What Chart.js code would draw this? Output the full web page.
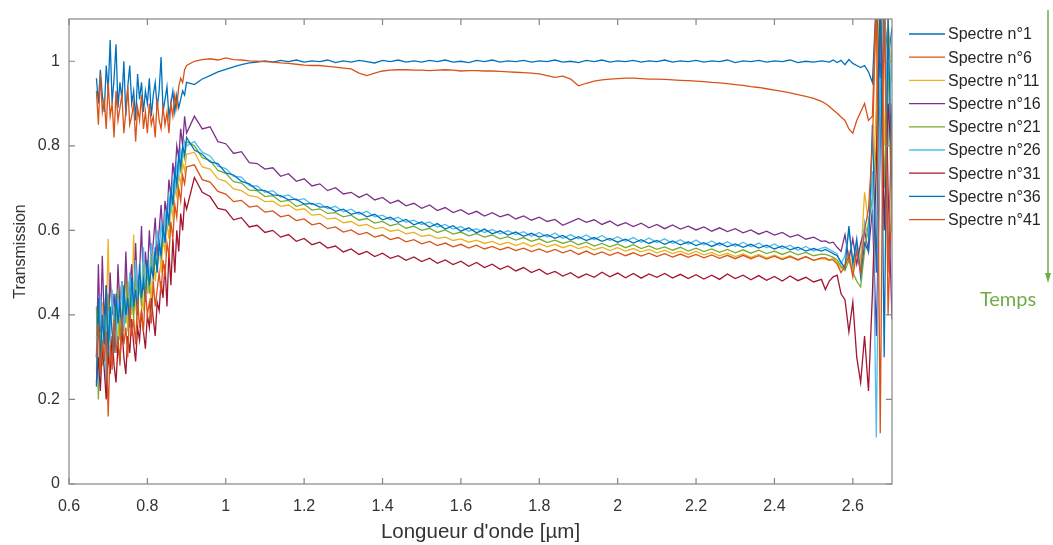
<!DOCTYPE html>
<html><head><meta charset="utf-8">
<script src="https://cdn.jsdelivr.net/npm/chart.js@4.4.1/dist/chart.umd.min.js"></script>
<style>html,body{margin:0;padding:0;background:#fff;}canvas{display:block;}</style>
</head><body>
<canvas id="c" width="1053" height="545"></canvas>
<script>
// Wavelengths (µm) – shared abscissa for every spectrum
const wavelengths = [
0.670,0.675,0.680,0.685,0.690,0.695,0.700,0.705,0.710,0.715,0.720,0.725,0.730,0.735,0.740,0.745,0.750,0.755,0.760,0.765,0.770,0.775,0.780,0.785,0.790,0.795,0.800,0.805,0.810,0.815,0.820,0.825,0.830,0.835,0.840,0.845,0.850,0.855,0.860,0.865,0.870,0.875,0.880,0.885,0.890,0.895,0.900,
0.92,0.94,0.96,0.98,1.00,1.02,1.04,1.06,1.08,1.10,1.12,1.14,1.16,1.18,1.20,1.22,1.24,1.26,1.28,1.30,
1.32,1.34,1.36,1.38,1.40,1.42,1.44,1.46,1.48,1.50,1.52,1.54,1.56,1.58,1.60,1.62,1.64,1.66,1.68,1.70,
1.72,1.74,1.76,1.78,1.80,1.82,1.84,1.86,1.88,1.90,1.92,1.94,1.96,1.98,2.00,2.02,2.04,2.06,2.08,2.10,
2.12,2.14,2.16,2.18,2.20,2.22,2.24,2.26,2.28,2.30,2.32,2.34,2.36,2.38,2.40,2.42,2.44,2.46,2.48,2.50,2.52,
2.53,2.54,2.55,2.56,2.57,2.58,2.59,2.60,2.61,2.62,2.63,2.64,2.65,2.66,2.67,2.68,2.69,2.70];

const seriesNames = ["Spectre n°1","Spectre n°6","Spectre n°11","Spectre n°16","Spectre n°21","Spectre n°26","Spectre n°31","Spectre n°36","Spectre n°41"];

const spectre1 = [
0.96,0.90,0.98,0.92,0.88,0.99,0.93,1.05,0.90,0.96,1.04,0.89,0.95,0.91,1.00,0.87,0.94,0.99,0.90,0.93,0.86,0.97,0.91,0.95,0.88,0.93,0.90,0.96,0.87,0.92,0.95,0.89,0.93,1.01,0.88,0.91,0.94,0.87,0.90,0.93,0.88,0.92,0.89,0.91,0.93,0.92,0.95,
0.945,0.958,0.966,0.975,0.981,0.987,0.992,0.996,0.998,1.001,0.998,1.002,0.999,1.003,0.998,1.001,0.999,1.003,0.997,1.001,
0.998,1.002,0.999,0.996,1.002,0.999,1.003,0.998,1.001,0.998,1.002,0.999,1.003,0.998,1.0,0.997,1.002,0.999,1.003,0.998,
1.001,0.999,1.002,0.998,1.001,0.999,1.003,0.998,1.0,0.997,1.002,0.999,1.003,0.998,1.001,0.999,1.002,0.998,1.001,0.999,
1.003,0.998,1.001,0.999,1.002,0.998,1.001,0.999,1.003,0.997,1.001,0.999,1.002,0.998,1.001,0.999,1.003,0.997,1.0,0.998,1.001,
1.0,0.998,1.003,0.997,1.002,0.992,1.004,0.995,0.99,0.985,0.99,0.975,0.95,1.15,0.96,1.12,1.0,1.08];
const spectre6 = [
0.93,0.85,0.97,0.88,0.91,0.84,0.95,0.87,0.90,0.82,0.93,0.86,0.89,0.92,0.83,0.88,0.94,0.85,0.87,0.90,0.81,0.89,0.86,0.92,0.84,0.88,0.83,0.90,0.85,0.87,0.82,0.91,0.86,0.84,0.89,0.85,0.88,0.83,0.90,0.87,0.92,0.89,0.94,0.96,0.95,0.98,0.99,
1.0,1.004,1.006,1.003,1.008,1.004,1.003,1.001,1.0,0.999,0.998,0.996,0.995,0.993,0.991,0.99,0.99,0.988,0.986,0.984,
0.982,0.972,0.966,0.972,0.977,0.979,0.98,0.98,0.979,0.979,0.978,0.979,0.98,0.979,0.977,0.978,0.978,0.977,0.977,0.976,
0.975,0.974,0.973,0.972,0.97,0.966,0.962,0.965,0.958,0.942,0.948,0.953,0.956,0.958,0.959,0.96,0.96,0.959,0.958,0.958,
0.957,0.956,0.955,0.954,0.953,0.952,0.95,0.949,0.947,0.945,0.943,0.94,0.938,0.935,0.932,0.929,0.925,0.921,0.917,0.912,0.905,
0.9,0.893,0.885,0.877,0.868,0.86,0.84,0.83,0.86,0.88,0.9,0.86,0.87,1.15,0.8,1.2,0.4,0.7];
const spectre11 = [
0.27,0.40,0.31,0.43,0.30,0.38,0.58,0.33,0.44,0.36,0.41,0.32,0.47,0.37,0.43,0.50,0.36,0.46,0.40,0.59,0.42,0.38,0.50,0.44,0.41,0.53,0.45,0.49,0.43,0.55,0.48,0.52,0.57,0.50,0.58,0.55,0.62,0.58,0.66,0.63,0.70,0.68,0.73,0.71,0.76,0.74,0.78,
0.785,0.75,0.745,0.722,0.716,0.698,0.694,0.682,0.679,0.668,0.669,0.657,0.66,0.648,0.651,0.636,0.638,0.627,0.629,0.618,
0.621,0.611,0.614,0.604,0.607,0.598,0.601,0.592,0.595,0.586,0.589,0.581,0.584,0.576,0.58,0.572,0.577,0.569,0.574,0.566,
0.572,0.564,0.571,0.562,0.569,0.561,0.567,0.559,0.565,0.557,0.562,0.554,0.56,0.552,0.559,0.551,0.557,0.549,0.555,0.547,
0.553,0.545,0.551,0.543,0.55,0.542,0.548,0.54,0.546,0.538,0.544,0.536,0.543,0.535,0.541,0.533,0.54,0.531,0.537,0.529,0.533,
0.532,0.528,0.535,0.525,0.51,0.52,0.55,0.50,0.57,0.53,0.69,0.62,0.67,0.90,1.2,0.8,1.1,0.95];
const spectre16 = [
0.30,0.52,0.35,0.54,0.38,0.47,0.33,0.50,0.40,0.45,0.36,0.52,0.41,0.48,0.39,0.55,0.43,0.47,0.52,0.41,0.57,0.45,0.50,0.61,0.46,0.55,0.49,0.60,0.52,0.57,0.63,0.54,0.60,0.66,0.58,0.67,0.63,0.72,0.68,0.76,0.72,0.80,0.77,0.84,0.80,0.87,0.83,
0.87,0.84,0.845,0.81,0.805,0.782,0.786,0.76,0.758,0.745,0.748,0.728,0.734,0.716,0.722,0.705,0.71,0.694,0.701,0.686,
0.69,0.678,0.686,0.672,0.678,0.664,0.671,0.658,0.664,0.652,0.66,0.647,0.654,0.642,0.649,0.638,0.645,0.634,0.642,0.632,
0.638,0.627,0.634,0.624,0.631,0.621,0.626,0.612,0.62,0.628,0.619,0.625,0.614,0.622,0.611,0.618,0.609,0.617,0.606,0.614,
0.604,0.613,0.603,0.61,0.601,0.608,0.598,0.606,0.597,0.604,0.594,0.601,0.591,0.598,0.589,0.595,0.584,0.59,0.579,0.584,0.574,
0.575,0.57,0.572,0.56,0.55,0.59,0.53,0.58,0.52,0.57,0.60,0.55,0.65,0.35,0.80,1.15,0.70,0.39];
const spectre21 = [
0.42,0.20,0.36,0.28,0.40,0.31,0.45,0.35,0.30,0.42,0.37,0.46,0.34,0.40,0.44,0.38,0.48,0.41,0.45,0.39,0.50,0.43,0.47,0.42,0.52,0.46,0.50,0.45,0.54,0.49,0.53,0.51,0.58,0.54,0.60,0.58,0.65,0.61,0.69,0.66,0.73,0.70,0.76,0.74,0.79,0.77,0.81,
0.80,0.772,0.765,0.742,0.735,0.715,0.712,0.695,0.694,0.68,0.682,0.668,0.671,0.657,0.662,0.648,0.651,0.64,0.642,0.632,
0.636,0.624,0.628,0.617,0.621,0.611,0.616,0.605,0.61,0.6,0.605,0.595,0.601,0.591,0.596,0.587,0.592,0.584,0.589,0.58,
0.585,0.577,0.583,0.574,0.58,0.571,0.577,0.569,0.575,0.566,0.572,0.563,0.569,0.561,0.568,0.559,0.566,0.557,0.563,0.555,
0.561,0.553,0.56,0.551,0.558,0.55,0.556,0.548,0.555,0.547,0.554,0.546,0.553,0.545,0.551,0.543,0.55,0.542,0.548,0.54,0.544,
0.543,0.54,0.536,0.53,0.515,0.505,0.53,0.50,0.48,0.466,0.55,0.62,0.676,0.8,1.15,0.7,1.0,0.6];
const spectre26 = [
0.35,0.24,0.45,0.30,0.38,0.22,0.41,0.34,0.46,0.37,0.33,0.44,0.39,0.48,0.36,0.43,0.40,0.50,0.42,0.46,0.53,0.44,0.49,0.45,0.56,0.47,0.51,0.49,0.57,0.52,0.55,0.60,0.54,0.62,0.57,0.64,0.61,0.68,0.65,0.72,0.69,0.76,0.73,0.79,0.77,0.81,0.80,
0.81,0.785,0.776,0.752,0.746,0.728,0.726,0.706,0.705,0.69,0.694,0.679,0.684,0.671,0.675,0.661,0.664,0.651,0.657,0.644,
0.65,0.638,0.645,0.632,0.636,0.625,0.631,0.619,0.624,0.614,0.62,0.608,0.614,0.603,0.609,0.598,0.604,0.595,0.602,0.592,
0.599,0.59,0.597,0.586,0.595,0.584,0.594,0.581,0.59,0.58,0.589,0.578,0.588,0.576,0.585,0.574,0.583,0.572,0.582,0.571,
0.58,0.569,0.578,0.567,0.577,0.566,0.575,0.564,0.573,0.562,0.572,0.561,0.57,0.559,0.568,0.557,0.565,0.553,0.562,0.551,0.558,
0.56,0.555,0.55,0.545,0.52,0.54,0.60,0.53,0.56,0.51,0.62,0.58,0.74,0.11,0.9,1.2,0.8,1.05];
const spectre31 = [
0.24,0.30,0.22,0.33,0.27,0.20,0.31,0.26,0.35,0.28,0.24,0.33,0.29,0.37,0.30,0.26,0.35,0.31,0.39,0.33,0.29,0.37,0.34,0.41,0.36,0.32,0.40,0.37,0.44,0.39,0.35,0.43,0.41,0.48,0.44,0.52,0.42,0.55,0.47,0.58,0.50,0.60,0.55,0.64,0.60,0.67,0.65,
0.725,0.69,0.68,0.652,0.648,0.625,0.63,0.608,0.612,0.595,0.6,0.584,0.59,0.574,0.581,0.566,0.572,0.558,0.563,0.549,
0.556,0.543,0.55,0.538,0.546,0.534,0.54,0.529,0.537,0.526,0.534,0.522,0.53,0.519,0.527,0.515,0.524,0.512,0.52,0.508,
0.516,0.504,0.512,0.5,0.508,0.496,0.503,0.492,0.5,0.488,0.497,0.489,0.501,0.49,0.499,0.488,0.498,0.487,0.497,0.489,
0.498,0.487,0.496,0.486,0.495,0.485,0.494,0.484,0.497,0.486,0.494,0.483,0.493,0.482,0.491,0.48,0.492,0.481,0.489,0.478,0.484,
0.46,0.48,0.49,0.494,0.45,0.436,0.36,0.43,0.30,0.24,0.35,0.22,0.45,0.75,1.15,0.6,0.9,0.75];
const spectre36 = [
0.23,0.44,0.28,0.40,0.33,0.47,0.30,0.42,0.36,0.31,0.45,0.38,0.43,0.35,0.47,0.40,0.44,0.37,0.49,0.42,0.46,0.40,0.52,0.44,0.48,0.43,0.53,0.47,0.51,0.49,0.56,0.50,0.57,0.54,0.61,0.57,0.65,0.62,0.70,0.66,0.74,0.71,0.78,0.75,0.80,0.78,0.82,
0.79,0.78,0.762,0.758,0.736,0.731,0.716,0.71,0.696,0.694,0.684,0.682,0.672,0.674,0.662,0.664,0.655,0.656,0.645,0.65,
0.638,0.643,0.632,0.638,0.625,0.631,0.619,0.626,0.613,0.62,0.608,0.616,0.603,0.611,0.598,0.606,0.594,0.603,0.592,0.599,
0.589,0.596,0.586,0.593,0.584,0.59,0.581,0.588,0.577,0.585,0.576,0.583,0.574,0.581,0.572,0.579,0.57,0.578,0.569,0.576,
0.567,0.575,0.566,0.573,0.564,0.571,0.562,0.57,0.561,0.568,0.56,0.567,0.558,0.565,0.556,0.563,0.554,0.56,0.551,0.557,0.551,
0.555,0.55,0.545,0.54,0.525,0.51,0.61,0.52,0.58,0.49,0.57,0.55,0.85,0.5,1.2,0.3,1.1,0.7];
const spectre41 = [
0.30,0.38,0.26,0.34,0.29,0.36,0.16,0.33,0.27,0.39,0.31,0.35,0.28,0.40,0.33,0.37,0.30,0.42,0.35,0.39,0.33,0.44,0.37,0.41,0.36,0.46,0.40,0.43,0.38,0.48,0.42,0.46,0.50,0.45,0.53,0.49,0.57,0.54,0.62,0.58,0.66,0.63,0.70,0.67,0.73,0.71,0.75,
0.755,0.72,0.714,0.692,0.686,0.668,0.671,0.655,0.658,0.643,0.646,0.632,0.636,0.623,0.627,0.613,0.617,0.604,0.608,0.596,
0.601,0.59,0.595,0.584,0.589,0.578,0.583,0.573,0.578,0.568,0.574,0.564,0.57,0.561,0.567,0.558,0.565,0.556,0.562,0.554,
0.56,0.552,0.558,0.55,0.556,0.548,0.555,0.547,0.553,0.543,0.551,0.542,0.549,0.541,0.548,0.54,0.547,0.539,0.546,0.538,
0.545,0.537,0.544,0.536,0.543,0.535,0.542,0.534,0.541,0.533,0.541,0.533,0.54,0.532,0.539,0.531,0.538,0.53,0.538,0.529,0.535,
0.535,0.53,0.53,0.52,0.50,0.515,0.54,0.49,0.55,0.50,0.60,0.65,0.8,1.15,0.12,1.2,0.5,0.9];

const xTickValues = [0.6,0.8,1,1.2,1.4,1.6,1.8,2,2.2,2.4,2.6];
const yTickValues = [0,0.2,0.4,0.6,0.8,1];
const lineColors = ["#0072BD","#D95319","#EDB120","#7E2F8E","#77AC30","#4DBEEE","#A2142F","#0072BD","#D95319"];

const allSeries = [spectre1,spectre6,spectre11,spectre16,spectre21,spectre26,spectre31,spectre36,spectre41];
const FONT = "'Liberation Sans', Arial, sans-serif";

const datasets = allSeries.map((ys, i) => ({
  label: seriesNames[i],
  data: wavelengths.map((x, k) => ({x: x, y: ys[k]})),
  borderColor: lineColors[i],
  borderWidth: 1.3,
  pointRadius: 0,
  tension: 0,
  fill: false,
  order: allSeries.length - i
}));

const fmt = v => String(parseFloat(Number(v).toFixed(2)));

const decorPlugin = {
  id: 'decor',
  afterDraw(chart) {
    const ctx = chart.ctx;
    const a = chart.chartArea;
    const xs = chart.scales.x, ys = chart.scales.y;
    ctx.save();
    ctx.strokeStyle = '#858585';
    ctx.lineWidth = 1.2;
    ctx.strokeRect(a.left, a.top, a.right - a.left, a.bottom - a.top);
    const tl = 6;
    ctx.beginPath();
    xTickValues.forEach(v => {
      const px = xs.getPixelForValue(v);
      ctx.moveTo(px, a.bottom); ctx.lineTo(px, a.bottom - tl);
      ctx.moveTo(px, a.top); ctx.lineTo(px, a.top + tl);
    });
    yTickValues.forEach(v => {
      const py = ys.getPixelForValue(v);
      ctx.moveTo(a.left, py); ctx.lineTo(a.left + tl, py);
      ctx.moveTo(a.right, py); ctx.lineTo(a.right - tl, py);
    });
    ctx.stroke();
    // legend
    ctx.font = '16px ' + FONT;
    ctx.textBaseline = 'middle';
    ctx.textAlign = 'left';
    chart.data.datasets.forEach((ds, i) => {
      const y = 34 + i * 23.2;
      ctx.strokeStyle = ds.borderColor;
      ctx.lineWidth = 1.3;
      ctx.beginPath(); ctx.moveTo(909, y); ctx.lineTo(945, y); ctx.stroke();
      ctx.fillStyle = '#262626';
      ctx.fillText(ds.label, 948, y + 1);
    });
    // time arrow
    ctx.strokeStyle = '#70AD47';
    ctx.fillStyle = '#70AD47';
    ctx.lineWidth = 1.5;
    ctx.beginPath(); ctx.moveTo(1048, 10); ctx.lineTo(1048, 276); ctx.stroke();
    ctx.beginPath(); ctx.moveTo(1045, 273); ctx.lineTo(1051, 273); ctx.lineTo(1048, 283); ctx.closePath(); ctx.fill();
    ctx.font = '20px Lato, sans-serif';
    ctx.textAlign = 'center';
    ctx.fillText('Temps', 1008, 300);
    ctx.restore();
  }
};

new Chart(document.getElementById('c'), {
  type: 'line',
  data: { datasets },
  options: {
    responsive: false,
    animation: false,
    layout: { padding: { left: 0, top: 19, right: 161, bottom: 0 } },
    plugins: { legend: { display: false }, tooltip: { enabled: false } },
    scales: {
      x: {
        type: 'linear', min: 0.6, max: 2.7,
        afterBuildTicks: s => { s.ticks = xTickValues.map(v => ({value: v})); },
        afterFit: s => { s.height = 61; },
        grid: { display: false, drawTicks: false },
        border: { display: false },
        ticks: { callback: v => fmt(v), padding: 13, color: '#333333', font: { family: FONT, size: 16 }, maxRotation: 0, autoSkip: false },
        title: { display: true, text: "Longueur d'onde [µm]", color: '#333333', font: { family: FONT, size: 20.5 }, padding: { top: 0, bottom: 0 } }
      },
      y: {
        type: 'linear', min: 0, max: 1.1,
        afterBuildTicks: s => { s.ticks = yTickValues.map(v => ({value: v})); },
        afterFit: s => { s.width = 69; },
        grid: { display: false, drawTicks: false },
        border: { display: false },
        ticks: { callback: v => fmt(v), padding: 9, color: '#333333', font: { family: FONT, size: 16 }, autoSkip: false },
        title: { display: true, text: 'Transmission', color: '#333333', font: { family: FONT, size: 16 }, padding: { top: 11, bottom: 0 } }
      }
    }
  },
  plugins: [decorPlugin]
});
</script>
</body></html>
